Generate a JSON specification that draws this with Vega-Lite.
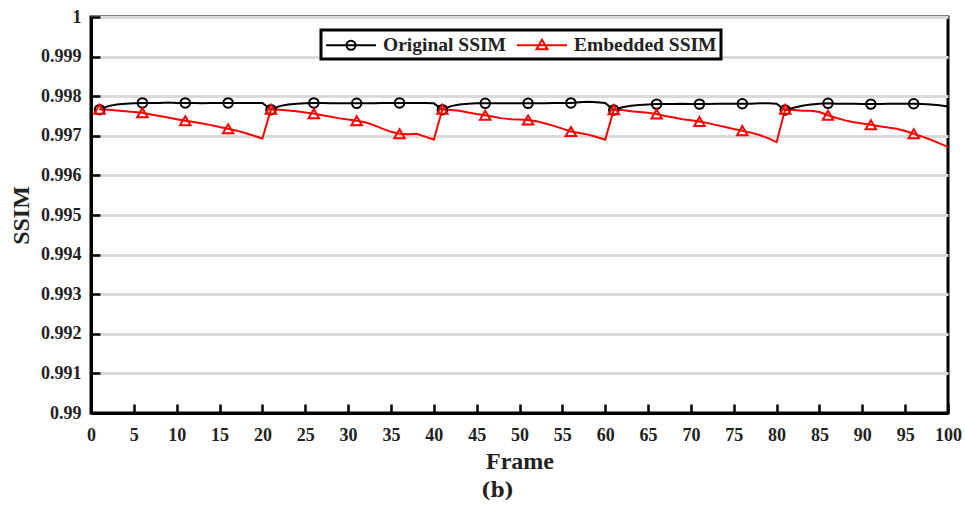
{
  "$schema": "https://vega.github.io/schema/vega-lite/v6.json",
  "autosize": "none",
  "width": 857,
  "height": 396,
  "padding": {"left": 91, "top": 17, "right": 17, "bottom": 95},
  "background": "white",
  "config": {
    "font": "Liberation Serif",
    "view": {"stroke": "black", "strokeWidth": 3},
    "axis": {
      "domainColor": "black", "domainWidth": 3,
      "tickColor": "black", "tickWidth": 2.5, "tickSize": -9,
      "labelFont": "Liberation Serif", "labelFontWeight": "bold", "labelFontSize": 18, "labelColor": "#222",
      "titleFont": "Liberation Serif", "titleFontWeight": "bold", "titleFontSize": 24, "titleColor": "#222"
    }
  },
  "title": {"text": "(b)", "orient": "bottom", "font": "DejaVu Serif", "fontWeight": "bold", "fontSize": 20, "color": "#222", "offset": 8, "dx": -22},
  "data": {"values": [
    {"frame":1,"series":"Original SSIM","ssim":0.99766},{"frame":2,"series":"Original SSIM","ssim":0.99775},{"frame":3,"series":"Original SSIM","ssim":0.99779},{"frame":4,"series":"Original SSIM","ssim":0.99781},{"frame":5,"series":"Original SSIM","ssim":0.99782},
    {"frame":6,"series":"Original SSIM","ssim":0.99783},{"frame":7,"series":"Original SSIM","ssim":0.99783},{"frame":8,"series":"Original SSIM","ssim":0.99783},{"frame":9,"series":"Original SSIM","ssim":0.99784},{"frame":10,"series":"Original SSIM","ssim":0.99783},
    {"frame":11,"series":"Original SSIM","ssim":0.99783},{"frame":12,"series":"Original SSIM","ssim":0.99783},{"frame":13,"series":"Original SSIM","ssim":0.99782},{"frame":14,"series":"Original SSIM","ssim":0.99783},{"frame":15,"series":"Original SSIM","ssim":0.99783},
    {"frame":16,"series":"Original SSIM","ssim":0.99783},{"frame":17,"series":"Original SSIM","ssim":0.99783},{"frame":18,"series":"Original SSIM","ssim":0.99783},{"frame":19,"series":"Original SSIM","ssim":0.99783},{"frame":20,"series":"Original SSIM","ssim":0.99783},
    {"frame":21,"series":"Original SSIM","ssim":0.99766},{"frame":22,"series":"Original SSIM","ssim":0.99775},{"frame":23,"series":"Original SSIM","ssim":0.99779},{"frame":24,"series":"Original SSIM","ssim":0.99781},{"frame":25,"series":"Original SSIM","ssim":0.99782},
    {"frame":26,"series":"Original SSIM","ssim":0.99783},{"frame":27,"series":"Original SSIM","ssim":0.99783},{"frame":28,"series":"Original SSIM","ssim":0.99782},{"frame":29,"series":"Original SSIM","ssim":0.99782},{"frame":30,"series":"Original SSIM","ssim":0.99782},
    {"frame":31,"series":"Original SSIM","ssim":0.99782},{"frame":32,"series":"Original SSIM","ssim":0.99782},{"frame":33,"series":"Original SSIM","ssim":0.99782},{"frame":34,"series":"Original SSIM","ssim":0.99783},{"frame":35,"series":"Original SSIM","ssim":0.99783},
    {"frame":36,"series":"Original SSIM","ssim":0.99783},{"frame":37,"series":"Original SSIM","ssim":0.99783},{"frame":38,"series":"Original SSIM","ssim":0.99783},{"frame":39,"series":"Original SSIM","ssim":0.99783},{"frame":40,"series":"Original SSIM","ssim":0.99782},
    {"frame":41,"series":"Original SSIM","ssim":0.99766},{"frame":42,"series":"Original SSIM","ssim":0.99775},{"frame":43,"series":"Original SSIM","ssim":0.99779},{"frame":44,"series":"Original SSIM","ssim":0.99781},{"frame":45,"series":"Original SSIM","ssim":0.99782},
    {"frame":46,"series":"Original SSIM","ssim":0.99782},{"frame":47,"series":"Original SSIM","ssim":0.99782},{"frame":48,"series":"Original SSIM","ssim":0.99782},{"frame":49,"series":"Original SSIM","ssim":0.99782},{"frame":50,"series":"Original SSIM","ssim":0.99782},
    {"frame":51,"series":"Original SSIM","ssim":0.99782},{"frame":52,"series":"Original SSIM","ssim":0.99782},{"frame":53,"series":"Original SSIM","ssim":0.99782},{"frame":54,"series":"Original SSIM","ssim":0.99783},{"frame":55,"series":"Original SSIM","ssim":0.99783},
    {"frame":56,"series":"Original SSIM","ssim":0.99783},{"frame":57,"series":"Original SSIM","ssim":0.99785},{"frame":58,"series":"Original SSIM","ssim":0.99786},{"frame":59,"series":"Original SSIM","ssim":0.99785},{"frame":60,"series":"Original SSIM","ssim":0.99783},
    {"frame":61,"series":"Original SSIM","ssim":0.99765},{"frame":62,"series":"Original SSIM","ssim":0.99772},{"frame":63,"series":"Original SSIM","ssim":0.99776},{"frame":64,"series":"Original SSIM","ssim":0.99778},{"frame":65,"series":"Original SSIM","ssim":0.99779},
    {"frame":66,"series":"Original SSIM","ssim":0.9978},{"frame":67,"series":"Original SSIM","ssim":0.9978},{"frame":68,"series":"Original SSIM","ssim":0.9978},{"frame":69,"series":"Original SSIM","ssim":0.99781},{"frame":70,"series":"Original SSIM","ssim":0.9978},
    {"frame":71,"series":"Original SSIM","ssim":0.9978},{"frame":72,"series":"Original SSIM","ssim":0.9978},{"frame":73,"series":"Original SSIM","ssim":0.99781},{"frame":74,"series":"Original SSIM","ssim":0.99781},{"frame":75,"series":"Original SSIM","ssim":0.99781},
    {"frame":76,"series":"Original SSIM","ssim":0.99781},{"frame":77,"series":"Original SSIM","ssim":0.99781},{"frame":78,"series":"Original SSIM","ssim":0.99782},{"frame":79,"series":"Original SSIM","ssim":0.99782},{"frame":80,"series":"Original SSIM","ssim":0.99781},
    {"frame":81,"series":"Original SSIM","ssim":0.99765},{"frame":82,"series":"Original SSIM","ssim":0.99771},{"frame":83,"series":"Original SSIM","ssim":0.99776},{"frame":84,"series":"Original SSIM","ssim":0.99779},{"frame":85,"series":"Original SSIM","ssim":0.99781},
    {"frame":86,"series":"Original SSIM","ssim":0.99782},{"frame":87,"series":"Original SSIM","ssim":0.99781},{"frame":88,"series":"Original SSIM","ssim":0.99781},{"frame":89,"series":"Original SSIM","ssim":0.99781},{"frame":90,"series":"Original SSIM","ssim":0.9978},
    {"frame":91,"series":"Original SSIM","ssim":0.9978},{"frame":92,"series":"Original SSIM","ssim":0.9978},{"frame":93,"series":"Original SSIM","ssim":0.99781},{"frame":94,"series":"Original SSIM","ssim":0.99781},{"frame":95,"series":"Original SSIM","ssim":0.99781},
    {"frame":96,"series":"Original SSIM","ssim":0.99781},{"frame":97,"series":"Original SSIM","ssim":0.9978},{"frame":98,"series":"Original SSIM","ssim":0.99779},{"frame":99,"series":"Original SSIM","ssim":0.99777},{"frame":100,"series":"Original SSIM","ssim":0.99774},
    {"frame":1,"series":"Embedded SSIM","ssim":0.99767},{"frame":2,"series":"Embedded SSIM","ssim":0.99766},{"frame":3,"series":"Embedded SSIM","ssim":0.99764},{"frame":4,"series":"Embedded SSIM","ssim":0.99762},{"frame":5,"series":"Embedded SSIM","ssim":0.9976},
    {"frame":6,"series":"Embedded SSIM","ssim":0.99758},{"frame":7,"series":"Embedded SSIM","ssim":0.99754},{"frame":8,"series":"Embedded SSIM","ssim":0.9975},{"frame":9,"series":"Embedded SSIM","ssim":0.99746},{"frame":10,"series":"Embedded SSIM","ssim":0.99742},
    {"frame":11,"series":"Embedded SSIM","ssim":0.99738},{"frame":12,"series":"Embedded SSIM","ssim":0.99735},{"frame":13,"series":"Embedded SSIM","ssim":0.99731},{"frame":14,"series":"Embedded SSIM","ssim":0.99727},{"frame":15,"series":"Embedded SSIM","ssim":0.99722},
    {"frame":16,"series":"Embedded SSIM","ssim":0.99718},{"frame":17,"series":"Embedded SSIM","ssim":0.99713},{"frame":18,"series":"Embedded SSIM","ssim":0.99707},{"frame":19,"series":"Embedded SSIM","ssim":0.997},{"frame":20,"series":"Embedded SSIM","ssim":0.99693},
    {"frame":21,"series":"Embedded SSIM","ssim":0.99767},{"frame":22,"series":"Embedded SSIM","ssim":0.99766},{"frame":23,"series":"Embedded SSIM","ssim":0.99764},{"frame":24,"series":"Embedded SSIM","ssim":0.99762},{"frame":25,"series":"Embedded SSIM","ssim":0.99759},
    {"frame":26,"series":"Embedded SSIM","ssim":0.99756},{"frame":27,"series":"Embedded SSIM","ssim":0.99752},{"frame":28,"series":"Embedded SSIM","ssim":0.99748},{"frame":29,"series":"Embedded SSIM","ssim":0.99744},{"frame":30,"series":"Embedded SSIM","ssim":0.99741},
    {"frame":31,"series":"Embedded SSIM","ssim":0.99738},{"frame":32,"series":"Embedded SSIM","ssim":0.99734},{"frame":33,"series":"Embedded SSIM","ssim":0.99727},{"frame":34,"series":"Embedded SSIM","ssim":0.99718},{"frame":35,"series":"Embedded SSIM","ssim":0.9971},
    {"frame":36,"series":"Embedded SSIM","ssim":0.99705},{"frame":37,"series":"Embedded SSIM","ssim":0.99704},{"frame":38,"series":"Embedded SSIM","ssim":0.99705},{"frame":39,"series":"Embedded SSIM","ssim":0.99698},{"frame":40,"series":"Embedded SSIM","ssim":0.9969},
    {"frame":41,"series":"Embedded SSIM","ssim":0.99767},{"frame":42,"series":"Embedded SSIM","ssim":0.99765},{"frame":43,"series":"Embedded SSIM","ssim":0.99763},{"frame":44,"series":"Embedded SSIM","ssim":0.99759},{"frame":45,"series":"Embedded SSIM","ssim":0.99755},
    {"frame":46,"series":"Embedded SSIM","ssim":0.99752},{"frame":47,"series":"Embedded SSIM","ssim":0.99748},{"frame":48,"series":"Embedded SSIM","ssim":0.99744},{"frame":49,"series":"Embedded SSIM","ssim":0.99742},{"frame":50,"series":"Embedded SSIM","ssim":0.99741},
    {"frame":51,"series":"Embedded SSIM","ssim":0.9974},{"frame":52,"series":"Embedded SSIM","ssim":0.99737},{"frame":53,"series":"Embedded SSIM","ssim":0.99731},{"frame":54,"series":"Embedded SSIM","ssim":0.99725},{"frame":55,"series":"Embedded SSIM","ssim":0.99718},
    {"frame":56,"series":"Embedded SSIM","ssim":0.99711},{"frame":57,"series":"Embedded SSIM","ssim":0.99707},{"frame":58,"series":"Embedded SSIM","ssim":0.99703},{"frame":59,"series":"Embedded SSIM","ssim":0.99697},{"frame":60,"series":"Embedded SSIM","ssim":0.9969},
    {"frame":61,"series":"Embedded SSIM","ssim":0.99766},{"frame":62,"series":"Embedded SSIM","ssim":0.99765},{"frame":63,"series":"Embedded SSIM","ssim":0.99762},{"frame":64,"series":"Embedded SSIM","ssim":0.9976},{"frame":65,"series":"Embedded SSIM","ssim":0.99758},
    {"frame":66,"series":"Embedded SSIM","ssim":0.99755},{"frame":67,"series":"Embedded SSIM","ssim":0.9975},{"frame":68,"series":"Embedded SSIM","ssim":0.99746},{"frame":69,"series":"Embedded SSIM","ssim":0.99742},{"frame":70,"series":"Embedded SSIM","ssim":0.99739},
    {"frame":71,"series":"Embedded SSIM","ssim":0.99736},{"frame":72,"series":"Embedded SSIM","ssim":0.99732},{"frame":73,"series":"Embedded SSIM","ssim":0.99727},{"frame":74,"series":"Embedded SSIM","ssim":0.99722},{"frame":75,"series":"Embedded SSIM","ssim":0.99717},
    {"frame":76,"series":"Embedded SSIM","ssim":0.99713},{"frame":77,"series":"Embedded SSIM","ssim":0.99708},{"frame":78,"series":"Embedded SSIM","ssim":0.99702},{"frame":79,"series":"Embedded SSIM","ssim":0.99694},{"frame":80,"series":"Embedded SSIM","ssim":0.99684},
    {"frame":81,"series":"Embedded SSIM","ssim":0.99767},{"frame":82,"series":"Embedded SSIM","ssim":0.99765},{"frame":83,"series":"Embedded SSIM","ssim":0.99763},{"frame":84,"series":"Embedded SSIM","ssim":0.99763},{"frame":85,"series":"Embedded SSIM","ssim":0.9976},
    {"frame":86,"series":"Embedded SSIM","ssim":0.99752},{"frame":87,"series":"Embedded SSIM","ssim":0.99745},{"frame":88,"series":"Embedded SSIM","ssim":0.99739},{"frame":89,"series":"Embedded SSIM","ssim":0.99734},{"frame":90,"series":"Embedded SSIM","ssim":0.99731},
    {"frame":91,"series":"Embedded SSIM","ssim":0.99728},{"frame":92,"series":"Embedded SSIM","ssim":0.99724},{"frame":93,"series":"Embedded SSIM","ssim":0.99721},{"frame":94,"series":"Embedded SSIM","ssim":0.99718},{"frame":95,"series":"Embedded SSIM","ssim":0.99712},
    {"frame":96,"series":"Embedded SSIM","ssim":0.99705},{"frame":97,"series":"Embedded SSIM","ssim":0.99698},{"frame":98,"series":"Embedded SSIM","ssim":0.9969},{"frame":99,"series":"Embedded SSIM","ssim":0.99681},{"frame":100,"series":"Embedded SSIM","ssim":0.99672}
  ]},
  "encoding": {
    "x": {"field": "frame", "type": "quantitative",
      "scale": {"domain": [0, 100], "nice": false, "zero": false},
      "axis": {"title": "Frame", "values": [0,5,10,15,20,25,30,35,40,45,50,55,60,65,70,75,80,85,90,95,100], "grid": false, "labelPadding": 22, "titlePadding": 5, "labelFlush": false}},
    "y": {"field": "ssim", "type": "quantitative",
      "scale": {"domain": [0.99, 1], "nice": false, "zero": false},
      "axis": {"title": "SSIM", "values": [0.99,0.991,0.992,0.993,0.994,0.995,0.996,0.997,0.998,0.999,1], "format": "~g", "grid": true, "gridColor": "#dadada", "gridWidth": 3, "labelPadding": 19, "titlePadding": 7, "labelFlush": false}}
  },
  "layer": [
    {
      "mark": {"type": "line", "strokeWidth": 2},
      "encoding": {
        "color": {"field": "series", "type": "nominal",
          "scale": {"domain": ["Original SSIM", "Embedded SSIM"], "range": ["black", "red"]},
          "legend": {
            "title": null, "orient": "none", "legendX": 230, "legendY": 13, "direction": "horizontal",
            "fillColor": "white", "strokeColor": "black", "padding": 4, "columnPadding": 7,
            "symbolSize": 400, "symbolOffset": 15, "labelOffset": 21, "symbolStrokeWidth": 2,
            "labelFont": "Liberation Serif", "labelFontWeight": "bold", "labelFontSize": 19.5, "labelColor": "#222",
            "encode": {
              "legend": {"update": {"strokeWidth": {"value": 3}}},
              "symbols": {"update": {
                "shape": {"signal": "datum.value === 'Original SSIM' ? 'M-2.5,0H2.5M0.45,0A0.45,0.45,0,1,1,-0.45,0A0.45,0.45,0,1,1,0.45,0' : 'M-2.5,0H2.5M0,-0.55L0.55,0.4L-0.55,0.4Z'"},
                "fill": {"value": "transparent"},
                "strokeWidth": {"value": 2}
              }}
            }
          }}
      }
    },
    {
      "transform": [{"filter": "datum.series === 'Original SSIM' && (datum.frame - 1) % 5 == 0"}],
      "mark": {"type": "point", "shape": "circle", "filled": false, "color": "black", "strokeWidth": 2, "size": 90, "opacity": 1}
    },
    {
      "transform": [{"filter": "datum.series === 'Embedded SSIM' && (datum.frame - 1) % 5 == 0"}],
      "mark": {"type": "point", "shape": "triangle-up", "filled": false, "color": "red", "strokeWidth": 2, "size": 110, "opacity": 1}
    }
  ]
}
